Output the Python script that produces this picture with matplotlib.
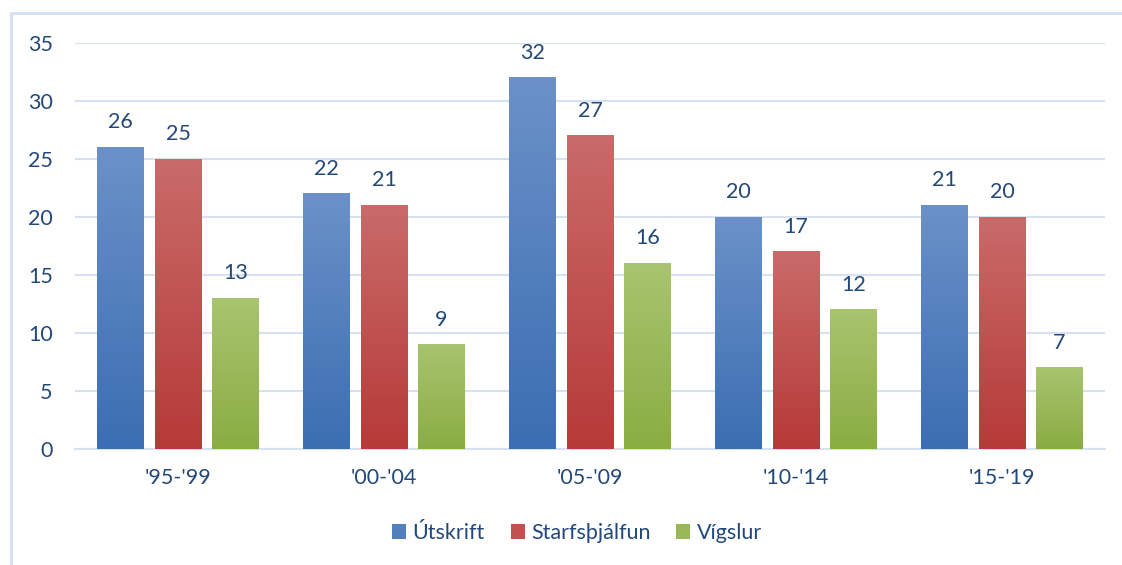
import numpy as np
import matplotlib.pyplot as plt
from matplotlib.patches import Rectangle
from matplotlib.colors import to_rgb, to_hex

plt.rcParams['font.family'] = ['Lato', 'DejaVu Sans']

periods = ["'95-'99", "'00-'04", "'05-'09", "'10-'14", "'15-'19"]
series = ['Útskrift', 'Starfsþjálfun', 'Vígslur']
utskrift = [26, 22, 32, 20, 21]
starfs = [25, 21, 27, 17, 20]
vigslur = [13, 9, 16, 12, 7]
values = [utskrift, starfs, vigslur]

# gradient top / bottom colours per series
tops = ['#6b91c8', '#c96b69', '#a8c46f']
bottoms = ['#3b6eb2', '#b63a38', '#8aad42']
txt = '#23487a'
grid = '#d6e2f1'
fs = 15.5

fig = plt.figure(figsize=(11.22, 5.65), dpi=100)
fig.patches.append(Rectangle((11/1122, -0.1), 1.2, 0.1 + (565-13)/565, transform=fig.transFigure,
                             fill=False, edgecolor='#d3e0f0', linewidth=2))
ax = fig.add_axes([75/1122, (565-449)/565, 1030/1122, (449-43)/565])

n = len(periods)
x = np.arange(n)
w = 0.228
step = 0.279

for i, vals in enumerate(values):
    offs = (i - 1) * step
    c0 = np.array(to_rgb(tops[i]))
    c1 = np.array(to_rgb(bottoms[i]))
    t = np.linspace(0, 1, 100)[:, None]
    grad = (c0 * (1 - t) + c1 * t)[:, None, :]
    for j, v in enumerate(vals):
        xc = x[j] + offs
        ax.imshow(grad, extent=[xc - w/2, xc + w/2, 0, v], aspect='auto', zorder=3, interpolation='bilinear')
        ax.text(xc, v + 1.3, str(v), ha='center', va='bottom', fontsize=fs, color=txt)

ax.set_xlim(-0.5, n - 0.5)
ax.set_ylim(0, 35)
ax.set_yticks(range(0, 36, 5))
ax.set_xticks(x)
ax.set_xticklabels(periods)
ax.yaxis.grid(True, color=grid, linewidth=1.5)
ax.set_axisbelow(True)
for s in ['top', 'right', 'left']:
    ax.spines[s].set_visible(False)
ax.spines['bottom'].set_color(grid)
ax.spines['bottom'].set_linewidth(1.5)
ax.tick_params(axis='both', length=0, labelsize=fs, labelcolor=txt)
ax.tick_params(axis='y', pad=16)
ax.tick_params(axis='x', pad=14)

handles = [Rectangle((0, 0), 1, 1, facecolor=to_hex((np.array(to_rgb(tops[i])) + np.array(to_rgb(bottoms[i]))) / 2))
           for i in range(3)]
fig.legend(handles, series, loc='center', bbox_to_anchor=(577/1122, 1 - 533/565), ncol=3, frameon=False,
           fontsize=fs, labelcolor=txt, handlelength=0.65, handleheight=0.65, handletextpad=0.3, columnspacing=1.2)

fig.savefig('out.png', dpi=100)
